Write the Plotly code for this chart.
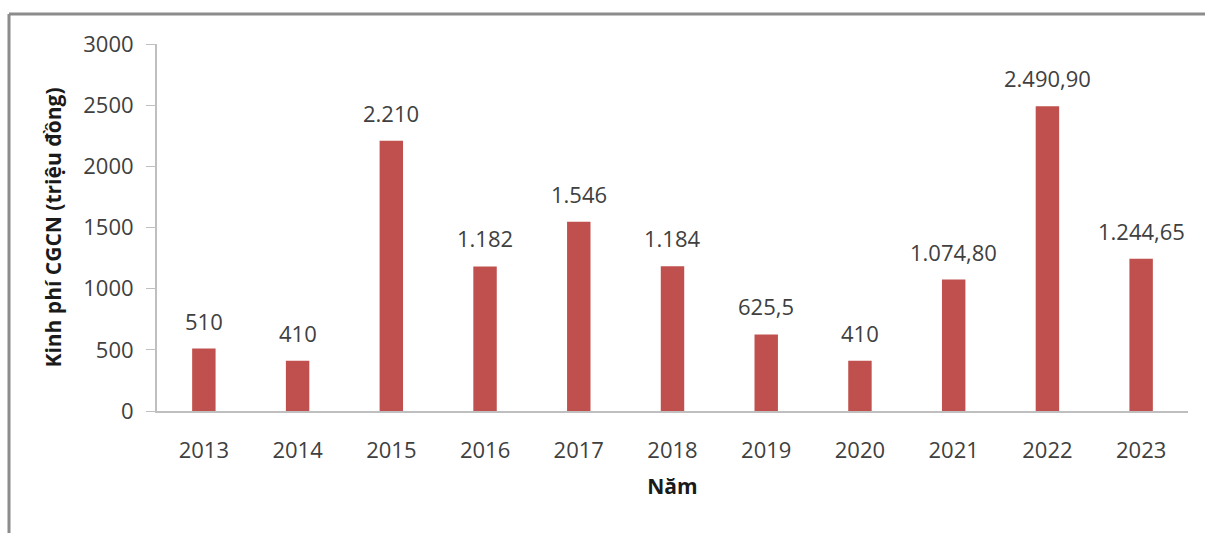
import plotly.graph_objects as go

# Technology transfer funding by year (million VND)
years = ["2013", "2014", "2015", "2016", "2017", "2018", "2019", "2020", "2021", "2022", "2023"]
funding = [510, 410, 2210, 1182, 1546, 1184, 625.5, 410, 1074.80, 2490.90, 1244.65]
value_labels = ["510", "410", "2.210", "1.182", "1.546", "1.184", "625,5", "410",
                "1.074,80", "2.490,90", "1.244,65"]
y_ticks = [0, 500, 1000, 1500, 2000, 2500, 3000]

W, H = 1205, 533
ML, MR, MT, MB = 157, 17, 44, 122
FONT = "Open Sans"
TEXT = "#404040"
FS = 22

fig = go.Figure()
fig.add_trace(go.Bar(
    x=years, y=funding, width=0.25,
    marker=dict(color="#C0504D", line=dict(width=0)),
    hoverinfo="x+y", showlegend=False,
))

# value labels above each bar (category index positions on the x axis)
for i, (v, lab) in enumerate(zip(funding, value_labels)):
    fig.add_annotation(x=i, y=v, text=lab, showarrow=False, yanchor="middle",
                       yshift=28, font=dict(family=FONT, size=FS, color=TEXT))

# outer frame (left and top edges)
pw, ph = W - ML - MR, H - MT - MB
x_left = (9 - ML) / pw
y_top = (H - MB - 14) / ph
y_bot = (H - MB - H - 5) / ph
x_right = (W + 5 - ML) / pw
fig.add_shape(type="line", xref="paper", yref="paper", x0=x_left, x1=x_left,
              y0=y_bot, y1=y_top, line=dict(color="#8C8C8C", width=3))
fig.add_shape(type="line", xref="paper", yref="paper", x0=x_left, x1=x_right,
              y0=y_top, y1=y_top, line=dict(color="#8C8C8C", width=3))

fig.update_layout(
    width=W, height=H,
    margin=dict(l=ML, r=MR, t=MT, b=MB),
    paper_bgcolor="white", plot_bgcolor="white",
    font=dict(family=FONT, color=TEXT, size=FS),
    xaxis=dict(
        type="category", range=[-0.5, len(years) - 0.5],
        showgrid=False, zeroline=False,
        showline=True, linecolor="#BFBFBF", linewidth=2,
        ticks="", ticklabelstandoff=19,
        tickfont=dict(family=FONT, size=FS, color=TEXT),
        title=dict(text="<b>Năm</b>", font=dict(family=FONT, size=21, color="#1a1a1a"),
                   standoff=16),
    ),
    yaxis=dict(
        range=[0, 3000], tickvals=y_ticks, showgrid=False, zeroline=False,
        showline=True, linecolor="#BFBFBF", linewidth=2,
        ticks="outside", ticklen=9, tickcolor="#BFBFBF", tickwidth=1,
        ticklabelstandoff=8,
        tickfont=dict(family=FONT, size=FS, color=TEXT),
        title=dict(text="<b>Kinh phí CGCN (triệu đồng)</b>",
                   font=dict(family=FONT, size=21, color="#1a1a1a"), standoff=16),
    ),
)

fig.write_html("out.html")
